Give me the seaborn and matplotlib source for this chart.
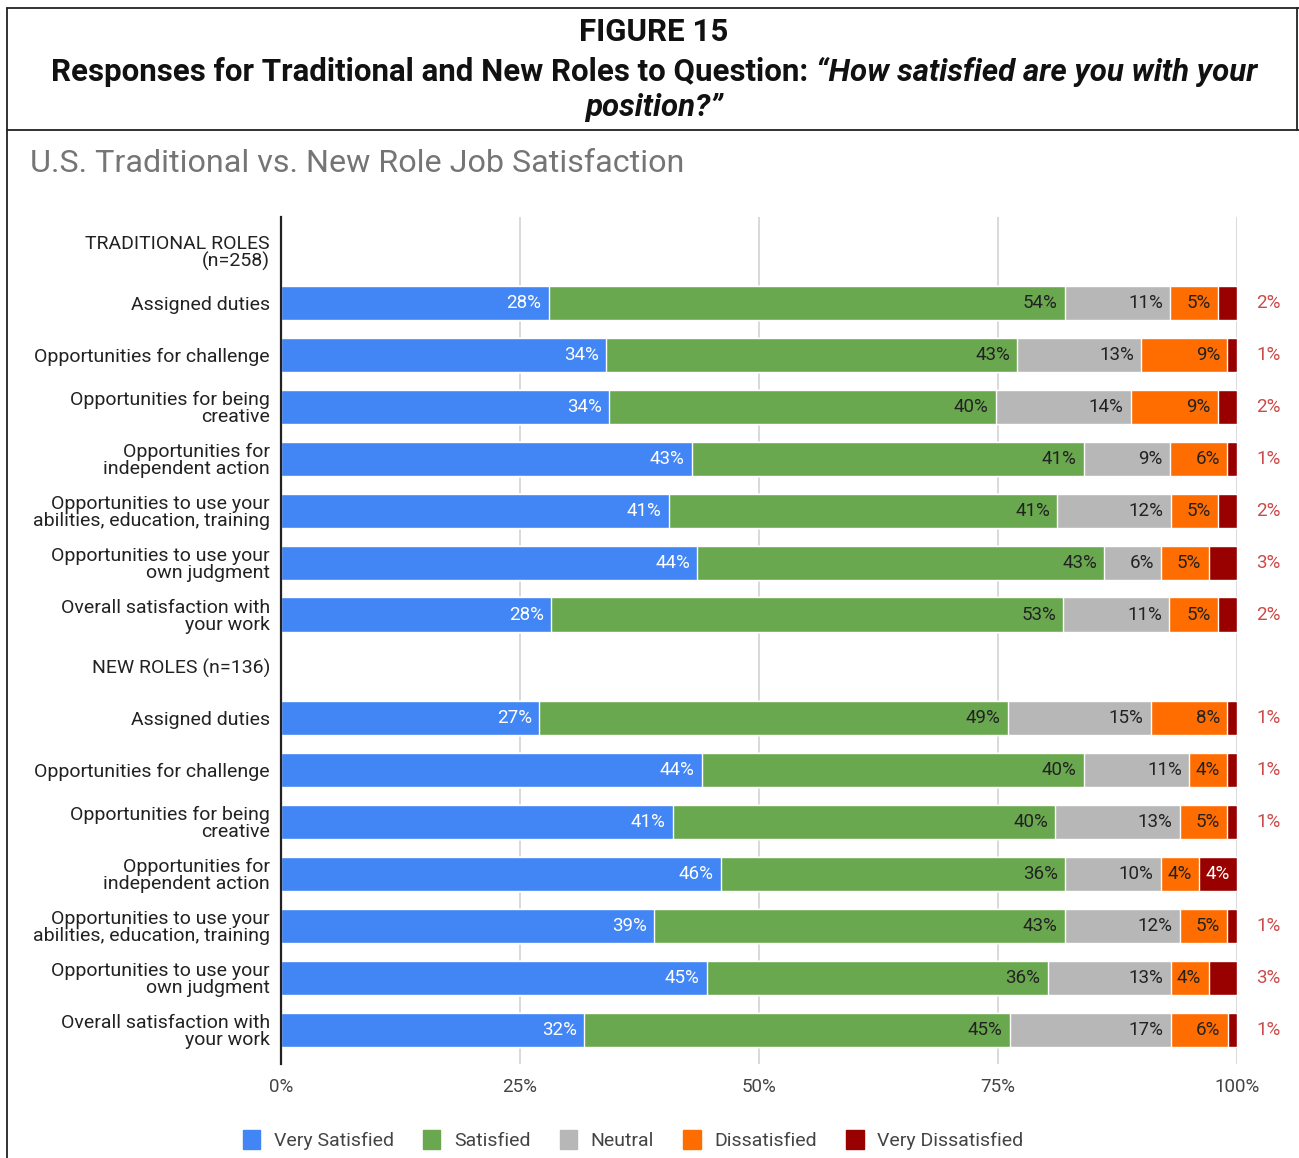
import matplotlib
matplotlib.use("Agg")
import matplotlib.pyplot as plt
from matplotlib import font_manager
from matplotlib.patches import Patch
from matplotlib.lines import Line2D
import seaborn as sns
import numpy as np
import pandas as pd

# ---------------------------------------------------------------- data
items = [
    "Assigned duties",
    "Opportunities for challenge",
    "Opportunities for being\ncreative",
    "Opportunities for\nindependent action",
    "Opportunities to use your\nabilities, education, training",
    "Opportunities to use your\nown judgment",
    "Overall satisfaction with\nyour work",
]
group_labels = ["TRADITIONAL ROLES\n(n=258)", "NEW ROLES (n=136)"]
levels = ["Very Satisfied", "Satisfied", "Neutral", "Dissatisfied", "Very Dissatisfied"]
level_colors = ["#4285F4", "#6AA84F", "#B7B7B7", "#FF6D01", "#990000"]

trad_very_satisfied = [28, 34, 34, 43, 41, 44, 28]
trad_satisfied = [54, 43, 40, 41, 41, 43, 53]
trad_neutral = [11, 13, 14, 9, 12, 6, 11]
trad_dissatisfied = [5, 9, 9, 6, 5, 5, 5]
trad_very_dissatisfied = [2, 1, 2, 1, 2, 3, 2]

new_very_satisfied = [27, 44, 41, 46, 39, 45, 32]
new_satisfied = [49, 40, 40, 36, 43, 36, 45]
new_neutral = [15, 11, 13, 10, 12, 13, 17]
new_dissatisfied = [8, 4, 5, 4, 5, 4, 6]
new_very_dissatisfied = [1, 1, 1, 4, 1, 3, 1]

x_ticks = [0, 25, 50, 75, 100]
x_tick_labels = ["0%", "25%", "50%", "75%", "100%"]

# ---------------------------------------------------------------- fonts
available = {f.name for f in font_manager.fontManager.ttflist}
NARROW = "Liberation Sans Narrow" if "Liberation Sans Narrow" in available else "Roboto"
TITLE_FONT = NARROW

sns.set_theme(style="white")
plt.rcParams["font.family"] = [NARROW, "DejaVu Sans"]

# ---------------------------------------------------------------- long table
groups = [
    ("trad", [trad_very_satisfied, trad_satisfied, trad_neutral,
              trad_dissatisfied, trad_very_dissatisfied]),
    ("new", [new_very_satisfied, new_satisfied, new_neutral,
             new_dissatisfied, new_very_dissatisfied]),
]

order, tick_text, records = [], [], []
for g, (gkey, series) in enumerate(groups):
    order.append(f"{gkey}_header")
    tick_text.append(group_labels[g])
    for i, item in enumerate(items):
        rid = f"{gkey}_{i}"
        order.append(rid)
        tick_text.append(item)
        vals = np.array([s[i] for s in series], dtype=float)
        # 100% stacked: each row is scaled to its own total
        scaled = vals / vals.sum() * 100
        ends = np.cumsum(scaled)
        starts = ends - scaled
        for k, lev in enumerate(levels):
            records.append(dict(row=rid, level=lev, k=k, value=int(vals[k]),
                                start=starts[k], end=ends[k]))
df = pd.DataFrame(records)

# ---------------------------------------------------------------- figure
W, H = 1299, 1158
fig = plt.figure(figsize=(W / 100, H / 100), dpi=100)
fig.patch.set_facecolor("white")

ax_l, ax_r, ax_t, ax_b = 281, 1237, 217, 1064
ax = fig.add_axes([ax_l / W, 1 - ax_b / H, (ax_r - ax_l) / W, (ax_b - ax_t) / H])

# stacked bars: draw cumulative ends from the last level back to the first
for k in reversed(range(len(levels))):
    sub = df[df.k == k]
    sns.barplot(data=sub, y="row", x="end", order=order, orient="h",
                color=level_colors[k], saturation=1, width=0.66,
                errorbar=None, ax=ax, zorder=3)

# segment labels
for _, r in df.iterrows():
    yi = order.index(r.row)
    txt = f"{r.value}%"
    if r.k == 4 and r.value < 4:
        ax.text(103.3, yi, txt, ha="center", va="center", fontsize=13.5,
                color="#CC4A4A", clip_on=False, zorder=5)
        continue
    color = "white" if r.k in (0, 4) else "#222222"
    ax.text(r.end - 0.75, yi, txt, ha="right", va="center", fontsize=13.5,
            color=color, zorder=5)

ax.set_xlim(0, 100)
ax.set_ylim(15.66, -0.66)
ax.set_xticks(x_ticks)
ax.set_xticklabels(x_tick_labels, fontsize=13.5, color="#444444")
ax.set_yticks(range(len(order)))
ax.set_yticklabels(tick_text, fontsize=14, color="#222222", linespacing=0.95)
ax.tick_params(axis="y", length=0, pad=8)
ax.tick_params(axis="x", length=0, pad=10)
ax.set_xlabel("")
ax.set_ylabel("")
ax.xaxis.grid(True, color="#D0D0D0", linewidth=1.1, zorder=0)
ax.yaxis.grid(False)
for side in ("top", "right", "bottom"):
    ax.spines[side].set_visible(False)
ax.spines["left"].set_color("#222222")
ax.spines["left"].set_linewidth(1.6)
ax.spines["left"].set_zorder(6)
if ax.get_legend() is not None:
    ax.get_legend().remove()

# legend
handles = [Patch(facecolor=c, edgecolor=c, label=l) for l, c in zip(levels, level_colors)]
fig.legend(handles=handles, loc="center", bbox_to_anchor=(633 / W, 1 - 1140 / H),
           ncol=5, frameon=False, fontsize=14, handlelength=0.9, handleheight=1.1,
           handletextpad=0.7, columnspacing=1.5, labelcolor="#444444")

# chart title
fig.text(30 / W, 1 - 163 / H, "U.S. Traditional vs. New Role Job Satisfaction",
         fontsize=23.2, color="#757575", ha="left", va="center")

# figure caption box
fig.add_artist(Line2D([7 / W, 7 / W], [0, 1 - 8 / H], transform=fig.transFigure,
                      color="#222222", lw=1.3))
fig.add_artist(Line2D([7 / W, 1], [1 - 8 / H, 1 - 8 / H], transform=fig.transFigure,
                      color="#222222", lw=1.3))
fig.add_artist(Line2D([7 / W, 1], [1 - 130 / H, 1 - 130 / H], transform=fig.transFigure,
                      color="#222222", lw=1.3))
fig.add_artist(Line2D([1297 / W, 1297 / W], [1 - 130 / H, 1 - 8 / H],
                      transform=fig.transFigure, color="#222222", lw=1.3))

renderer = fig.canvas.get_renderer()
cx = 654
tsize = 22.5


def centered_line(parts, ypx):
    texts = []
    for s, style in parts:
        t = fig.text(0, 1 - ypx / H, s, fontsize=tsize, fontweight="bold",
                     fontstyle=style, family=[TITLE_FONT, "DejaVu Sans"],
                     color="#111111", ha="left", va="center")
        texts.append(t)
    widths = [t.get_window_extent(renderer).width for t in texts]
    gap = tsize * 100 / 72 * 0.26
    total = sum(widths) + gap * (len(texts) - 1)
    x = cx - total / 2
    for t, w in zip(texts, widths):
        t.set_x(x / W)
        x += w + gap


centered_line([("FIGURE 15", "normal")], 32)
centered_line([("Responses for Traditional and New Roles to Question:", "normal"),
               ("\u201cHow satisfied are you with your", "italic")], 72)
centered_line([("position?\u201d", "italic")], 108)

fig.savefig("out.png", dpi=100)
